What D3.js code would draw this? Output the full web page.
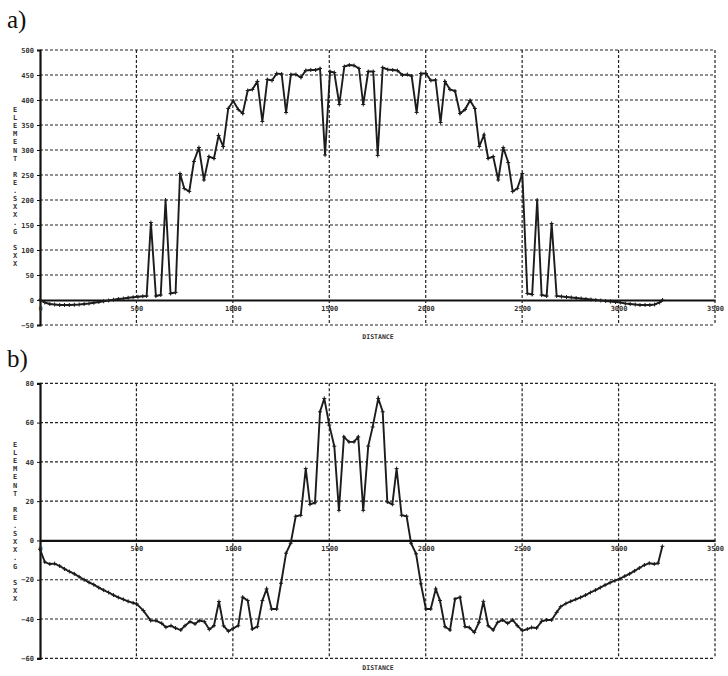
<!DOCTYPE html>
<html>
<head>
<meta charset="utf-8">
<script src="https://cdn.jsdelivr.net/npm/d3@7"></script>
<style>
  html, body { margin: 0; padding: 0; background: #fff; }
  svg { display: block; }
  .tick text, .lbl { font-family: "DejaVu Sans Mono", monospace; font-weight: bold; fill: #333; }
  .panel-title { font-family: "Liberation Serif", "Times New Roman", serif; fill: #111; }
</style>
</head>
<body>
<div id="chart"></div>
<script>
// Datos panel a) distancia / valor
const distA = [0, 25, 51, 76, 102, 127, 152, 178, 203, 229, 254, 279, 305, 330, 356, 381, 406, 432, 457, 483, 508, 533,
  553, 575, 601, 626, 651, 677, 703, 726, 748, 774, 798, 824, 850, 876, 902, 926, 950, 976, 1002, 1028, 1051, 1077,
  1101, 1127, 1153, 1179, 1203, 1227, 1253, 1276, 1301, 1327, 1353, 1378, 1404, 1429, 1452, 1478, 1504, 1526, 1552,
  1578, 1604, 1628, 1654, 1676, 1702, 1728, 1751, 1777, 1803, 1829, 1853, 1879, 1905, 1927, 1953, 1975, 2001, 2027,
  2051, 2077, 2100, 2126, 2152, 2178, 2204, 2230, 2255, 2278, 2302, 2324, 2350, 2376, 2402, 2428, 2451, 2475, 2501,
  2527, 2552, 2578, 2601, 2627, 2653, 2679, 2704, 2730, 2755, 2780, 2806, 2831, 2857, 2882, 2908, 2933, 2958, 2984,
  3009, 3035, 3060, 3086, 3111, 3137, 3162, 3187, 3213, 3228];
const valA = [0, -5, -8, -9, -10, -10, -10, -9.5, -9, -8, -7, -5.5, -4, -2.5, -1, 0.5, 2, 3, 4.5, 5.5, 6.5, 7.5,
  8, 155, 8, 10, 200, 13, 15, 253, 223, 217, 277, 305, 240, 287, 283, 329, 307, 383, 398, 381, 373, 419,
  421, 437, 357, 441, 439, 453, 452, 375, 451, 451, 445, 459, 460, 460, 463, 290, 457, 455, 391,
  467, 470, 469, 463, 391, 457, 457, 289, 465, 461, 460, 459, 450, 451, 448, 375, 453, 453, 439,
  440, 355, 437, 421, 418, 373, 381, 399, 383, 307, 330, 283, 287, 240, 305, 275, 217, 223, 253,
  13, 11, 200, 10, 8, 153, 8, 7, 6, 5, 4, 3, 2, 1, 0, -1, -2, -3, -4,
  -5, -7, -8, -9, -10, -10, -10, -9, -5, 0];

// Datos panel b)
const distB = [0, 25, 51, 76, 102, 127, 152, 178, 203, 229, 254, 279, 305, 330, 356, 381, 406, 432, 457, 483, 501,
  536, 574, 601, 631, 653, 679, 703, 730, 752, 778, 804, 826, 852, 878, 902, 928, 952, 977, 1002, 1028, 1051, 1077,
  1101, 1127, 1153, 1175, 1201, 1227, 1250, 1276, 1300, 1326, 1352, 1378, 1400, 1426, 1452, 1474, 1500, 1526, 1550,
  1576, 1602, 1628, 1650, 1676, 1702, 1725, 1754, 1777, 1801, 1827, 1849, 1875, 1901, 1924, 1950, 1975, 2001, 2026,
  2052, 2074, 2100, 2126, 2152, 2178, 2204, 2226, 2252, 2276, 2299, 2324, 2350, 2373, 2399, 2425, 2451, 2475, 2501,
  2527, 2549, 2575, 2601, 2627, 2653, 2679, 2700, 2727, 2752, 2778, 2803, 2829, 2854, 2880, 2905, 2930, 2956, 2981,
  3007, 3032, 3057, 3083, 3108, 3134, 3159, 3185, 3205, 3227];
const valB = [-4.5, -11, -12, -11.8, -13, -14.5, -15.8, -17, -18.5, -20, -21.3, -22.5, -24, -25.3, -26.5, -27.8, -29, -30, -31, -31.8, -32.3,
  -35.7, -40.8, -40.8, -42.2, -44.2, -43.4, -44.6, -45.6, -43.4, -41.3, -42.5, -40.8, -41.3, -45.3, -43.4, -31.1, -43.5, -46.2, -44.7, -43.4, -28.9, -30.6,
  -45.1, -43.9, -30.6, -24.7, -34.9, -34.9, -21.8, -6.5, -1.4, 12.3, 12.8, 36.6, 18.4, 19.2, 65.5, 72.3, 58.7, 48, 15.3,
  52.7, 50.2, 50.2, 52.7, 15.3, 48, 57.8, 72.3, 65.5, 19.6, 18.4, 36.6, 12.8, 12.3, -1.4, -6.8, -22.1, -34.9, -34.9,
  -24.7, -30.6, -43.9, -45.6, -29.8, -28.9, -43.9, -44.3, -46.8, -41.7, -31, -43.4, -45.6, -41.7, -40.5, -42.2, -40.5, -43.4, -45.9,
  -45.1, -44.3, -44.6, -41.2, -40.5, -40.5, -36.6, -33.7, -32.1, -31, -30, -29, -27.8, -26.5, -25.3, -24, -22.7, -21.5, -20.5,
  -19.5, -18.2, -17, -15.5, -14, -12.5, -11.6, -12, -11.6, -3];

const xTicks = [0, 500, 1000, 1500, 2000, 2500, 3000, 3500];
const yTicksA = [-50, 0, 50, 100, 150, 200, 250, 300, 350, 400, 450, 500];
const yTicksB = [-60, -40, -20, 0, 20, 40, 60, 80];
const yLabel = "ELEMENT RE.SXX.G SXX";
const xLabel = "DISTANCE";

// Configuración
const config = {
    width: 728,
    height: 676,
    left: 40,
    right: 715,
    dash: "3,2",
    lineColor: "#1c1c1c",
    gridColor: "#222"
};

const svg = d3.select("#chart")
    .append("svg")
    .attr("width", config.width)
    .attr("height", config.height);

const x = d3.scaleLinear().domain([0, 3500]).range([config.left, config.right]);
const fmt = d3.format("d");

function drawPanel(opts) {
    const { dist, vals, yDomain, yRange, yTicks, title, titleY, labelTop, xTitleY } = opts;
    const y = d3.scaleLinear().domain(yDomain).range(yRange);
    const g = svg.append("g");

    // titulo del panel
    g.append("text")
        .attr("class", "panel-title")
        .attr("x", 7)
        .attr("y", titleY)
        .style("font-size", "25px")
        .text(title);

    // rejilla horizontal
    g.selectAll(".hgrid")
        .data(yTicks.filter(d => d !== 0))
        .enter()
        .append("line")
        .attr("x1", x(0))
        .attr("x2", x(3500))
        .attr("y1", d => y(d))
        .attr("y2", d => y(d))
        .attr("stroke", config.gridColor)
        .attr("stroke-width", 1.2)
        .attr("stroke-dasharray", config.dash);

    // eje y
    const yAxis = d3.axisLeft(y).tickValues(yTicks).tickFormat(fmt).tickSize(3).tickPadding(3);
    const ya = g.append("g")
        .attr("transform", `translate(${x(0)},0)`)
        .call(yAxis);
    ya.select(".domain").attr("stroke", "#111").attr("stroke-width", 2.2);
    ya.selectAll(".tick line").attr("stroke", "#111");
    ya.selectAll(".tick text").style("font-size", "7px");

    // eje x en cero
    const xAxis = d3.axisBottom(x).tickValues(xTicks).tickFormat(fmt).tickSize(0).tickPadding(6);
    const xa = g.append("g")
        .attr("transform", `translate(0,${y(0)})`)
        .call(xAxis);
    xa.select(".domain").attr("stroke", "#111").attr("stroke-width", 2.2);
    xa.selectAll(".tick text").style("font-size", "7px");

    // rejilla vertical
    g.selectAll(".vgrid")
        .data(xTicks.filter(d => d !== 0))
        .enter()
        .append("line")
        .attr("x1", d => x(d))
        .attr("x2", d => x(d))
        .attr("y1", y(yDomain[1]))
        .attr("y2", y(yDomain[0]))
        .attr("stroke", config.gridColor)
        .attr("stroke-width", 1.2)
        .attr("stroke-dasharray", config.dash);

    // etiqueta vertical letra por letra
    const chars = yLabel.split("");
    g.append("g")
        .selectAll("text")
        .data(chars)
        .enter()
        .append("text")
        .attr("class", "lbl")
        .attr("x", 15)
        .attr("y", (_, i) => labelTop + i * 8.1)
        .attr("text-anchor", "middle")
        .style("font-size", "7px")
        .text(d => d);

    g.append("text")
        .attr("class", "lbl")
        .attr("x", 378)
        .attr("y", xTitleY)
        .attr("text-anchor", "middle")
        .style("font-size", "6.5px")
        .text(xLabel);

    // serie
    const pts = dist.map((d, i) => [d, vals[i]]);
    const line = d3.line().x(d => x(d[0])).y(d => y(d[1]));
    g.append("path")
        .datum(pts)
        .attr("fill", "none")
        .attr("stroke", config.lineColor)
        .attr("stroke-width", 1.9)
        .attr("stroke-linejoin", "miter")
        .attr("d", line);

    // marcadores +
    g.selectAll(".mk")
        .data(pts)
        .enter()
        .append("path")
        .attr("d", d => {
            const px = x(d[0]), py = y(d[1]);
            return `M${px - 2},${py}H${px + 2}M${px},${py - 2}V${py + 2}`;
        })
        .attr("stroke", config.lineColor)
        .attr("stroke-width", 1);
}

drawPanel({
    dist: distA, vals: valA,
    yDomain: [-50, 500], yRange: [325, 50],
    yTicks: yTicksA, title: "a)", titleY: 28,
    labelTop: 112, xTitleY: 339
});

drawPanel({
    dist: distB, vals: valB,
    yDomain: [-60, 80], yRange: [658.3, 383.3],
    yTicks: yTicksB, title: "b)", titleY: 367,
    labelTop: 447, xTitleY: 670
});
</script>
</body>
</html>
